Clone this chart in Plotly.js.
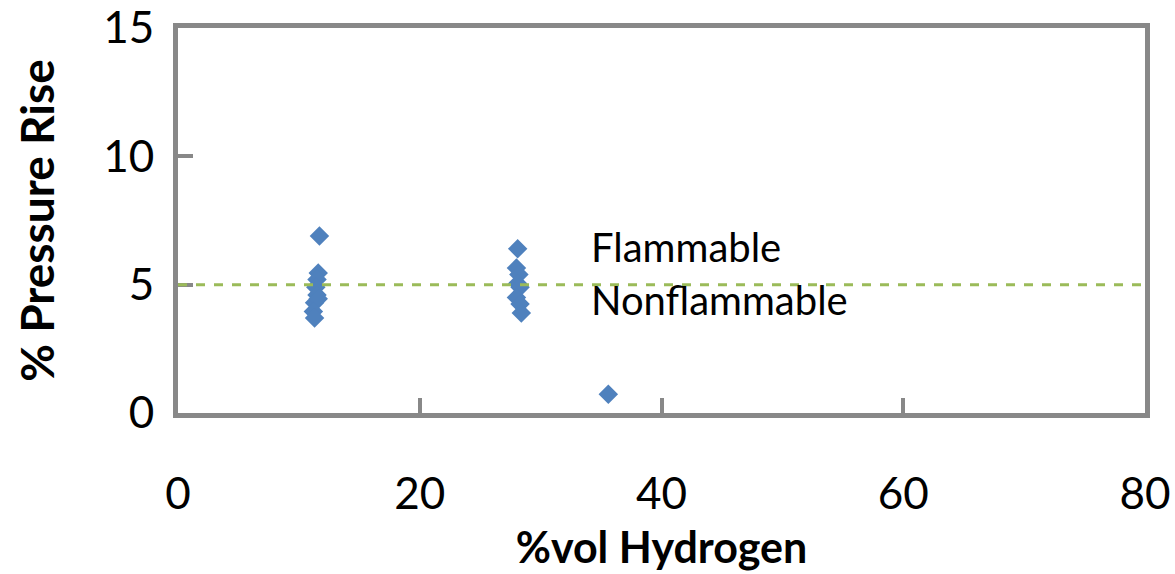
<!DOCTYPE html>
<html>
<head>
<meta charset="utf-8">
<script src="https://cdn.plot.ly/plotly-3.0.1.min.js"></script>
<style>html,body{margin:0;padding:0;background:#fff;}#chart{width:1175px;height:574px;}</style>
</head>
<body>
<div id="chart"></div>
<script>
// %vol hydrogen
const hydrogen = [11.7, 11.6, 11.5, 11.4, 11.5, 11.3, 11.6, 11.2, 11.3,
                  28.1, 28.0, 28.2, 28.1, 28.3, 28.0, 28.3, 28.4, 35.6];
// % pressure rise
const pressureRise = [6.9, 5.45, 5.2, 4.9, 4.6, 4.3, 4.45, 3.95, 3.7,
                      6.4, 5.65, 5.4, 5.05, 4.9, 4.5, 4.25, 3.9, 0.73];
const threshold = 5;
const labelFlammable = "Flammable";
const labelNonflammable = "Nonflammable";
const xTicks = [0, 20, 40, 60, 80];
const yTicks = [0, 5, 10, 15];

const fontFam = "Lato, 'Open Sans', sans-serif";
const data = [{
  x: hydrogen, y: pressureRise, type: 'scatter', mode: 'markers',
  marker: {symbol: 'diamond', size: 15, color: '#4F81BD'},
  hoverinfo: 'x+y', showlegend: false
}];
const layout = {
  width: 1175, height: 574,
  margin: {l: 178, r: 30, t: 28, b: 161},
  paper_bgcolor: '#fff', plot_bgcolor: '#fff',
  font: {family: fontFam, color: '#000'},
  xaxis: {
    range: [0, 80], tickvals: xTicks, ticktext: xTicks.map(String),
    showgrid: false, zeroline: false,
    showline: true, linecolor: '#888888', linewidth: 5, mirror: true,
    ticks: 'inside', ticklen: 15, tickwidth: 4, tickcolor: '#888888',
    tickfont: {size: 44, family: fontFam, color: '#000'},
    ticklabelstandoff: 38,
    title: {text: '%vol Hydrogen', font: {size: 43, family: fontFam, color: '#000', weight: 'bold'}, standoff: 18}
  },
  yaxis: {
    range: [0, 15], tickvals: yTicks, ticktext: yTicks.map(String),
    showgrid: false, zeroline: false,
    showline: true, linecolor: '#888888', linewidth: 5, mirror: true,
    ticks: 'inside', ticklen: 15, tickwidth: 4, tickcolor: '#888888',
    tickfont: {size: 44, family: fontFam, color: '#000'},
    ticklabelstandoff: 10,
    title: {text: '% Pressure Rise', font: {size: 46, family: fontFam, color: '#000', weight: 'bold'}, standoff: 36}
  },
  shapes: [{
    type: 'line', xref: 'x', yref: 'y', x0: 0, x1: 80, y0: threshold, y1: threshold,
    line: {color: '#9BBB59', width: 3, dash: 'dash'}
  }],
  annotations: [
    {x: 34, y: 6.45, xref: 'x', yref: 'y', text: labelFlammable, showarrow: false,
     xanchor: 'left', yanchor: 'middle', font: {size: 40, family: fontFam, color: '#000'}},
    {x: 34, y: 4.4, xref: 'x', yref: 'y', text: labelNonflammable, showarrow: false,
     xanchor: 'left', yanchor: 'middle', font: {size: 40, family: fontFam, color: '#000'}}
  ]
};
Plotly.newPlot('chart', data, layout, {displayModeBar: false, staticPlot: true});
</script>
</body>
</html>
